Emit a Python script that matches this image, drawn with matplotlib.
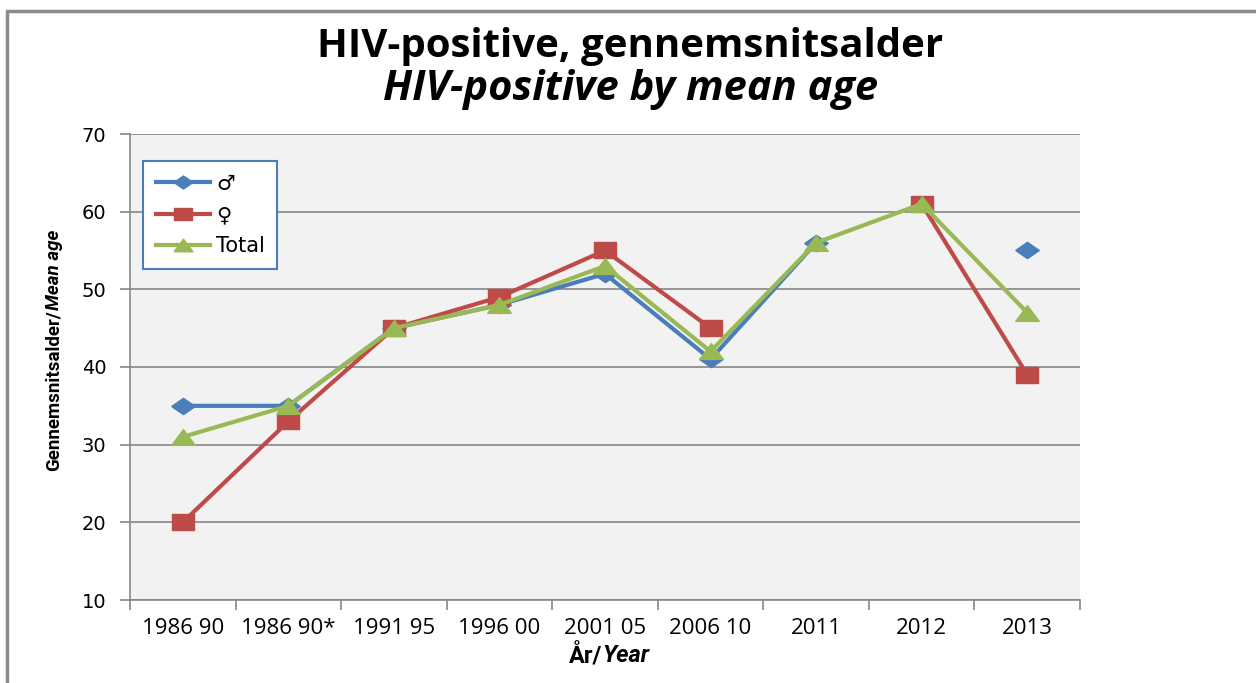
import numpy as np
import matplotlib
matplotlib.use("Agg")
import matplotlib.pyplot as plt
from matplotlib.patches import Rectangle

# data
periods = ["1986 90", "1986 90*", "1991 95", "1996 00", "2001 05",
           "2006 10", "2011", "2012", "2013"]
men = [35, 35, 45, 48, 52, 41, 56, np.nan, 55]
women = [20, 33, 45, 49, 55, 45, np.nan, 61, 39]
total = [31, 35, 45, 48, 53, 42, 56, 61, 47]

blue = "#4a7ebb"
red = "#be4b48"
green = "#98b954"
grid_col = "#868686"

# the original chart is stretched sideways, so markers are wide
diamond = [(-1.45, 0), (0, 1), (1.45, 0), (0, -1), (-1.45, 0)]
square = [(-1.45, -1), (1.45, -1), (1.45, 1), (-1.45, 1), (-1.45, -1)]
triangle = [(-1.5, -1), (1.5, -1), (0, 1), (-1.5, -1)]

fig = plt.figure(figsize=(12.56, 6.83), dpi=100)
W, H = 1256, 683

def fx(px):
    return px / W

def fy(py):
    return 1 - py / H

# outer chart frame
fig.patches.append(Rectangle((fx(7), fy(700)), fx(1300), 700 / H - 11 / H,
                             transform=fig.transFigure, fill=False,
                             edgecolor="#8c8c8c", linewidth=2.5))

ax = fig.add_axes([fx(130), fy(600), fx(1080) - fx(130), fy(134) - fy(600)])
ax.set_facecolor("#f2f2f2")

x = np.arange(len(periods))
ax.plot(x, men, color=blue, lw=3, marker=diamond, ms=17, label="\u2642", zorder=3)
ax.plot(x, women, color=red, lw=3, marker=square, ms=16, label="\u2640", zorder=4)
ax.plot(x, total, color=green, lw=3, marker=triangle, ms=17, label="Total", zorder=5)

ax.set_xlim(-0.5, len(periods) - 0.5)
ax.set_ylim(10, 70)
ax.set_yticks(range(10, 71, 10))
ax.yaxis.grid(True, color=grid_col, lw=1.2)
ax.set_axisbelow(True)

ax.set_xticks(x)
ax.set_xticklabels(periods, fontfamily="Open Sans", fontsize=16)
ax.set_xticks(np.arange(-0.5, len(periods)), minor=True)
ax.tick_params(axis="x", which="major", length=0, pad=13)
ax.tick_params(axis="x", which="minor", length=7, color=grid_col, width=1.2)
ax.tick_params(axis="y", length=7, color=grid_col, width=1.2, pad=10,
               labelsize=14)
for lab in ax.get_yticklabels():
    lab.set_fontfamily("DejaVu Sans")

for s in ["top", "right"]:
    ax.spines[s].set_visible(False)
for s in ["left", "bottom"]:
    ax.spines[s].set_color(grid_col)
    ax.spines[s].set_linewidth(1.2)

# titles
fig.text(fx(630), fy(47), "HIV-positive, gennemsnitsalder", ha="center",
         va="center", fontfamily="Open Sans", fontweight="bold", fontsize=29)
fig.text(fx(631), fy(90), "HIV-positive by mean age", ha="center",
         va="center", fontfamily="Open Sans", fontweight="bold",
         style="italic", fontsize=30)

# axis labels (mixed upright / italic)
fig.text(fx(54), fy(310), "Gennemsnitsalder/", rotation=90,
         rotation_mode="anchor", ha="right", va="center",
         fontfamily="Roboto", fontweight="bold", fontsize=13.5)
fig.text(fx(54), fy(310), "Mean age", rotation=90, rotation_mode="anchor",
         ha="left", va="center", fontfamily="Roboto",
         fontweight="bold", style="italic", fontsize=13.5)
fig.text(fx(602), fy(655), "År/", ha="right", va="center",
         fontfamily="Roboto", fontweight="bold", fontsize=17)
fig.text(fx(602), fy(655), "Year", ha="left", va="center",
         fontfamily="Roboto", fontweight="bold",
         style="italic", fontsize=17)

leg = ax.legend(loc="upper left", bbox_to_anchor=(fx(143), fy(161)),
                bbox_transform=fig.transFigure, fancybox=False,
                edgecolor=blue, framealpha=1, facecolor="white",
                prop={"family": "DejaVu Sans", "size": 15},
                handlelength=2.6, handletextpad=0.3, labelspacing=0.55,
                borderpad=0.6, borderaxespad=0, markerscale=0.8)
leg.get_frame().set_linewidth(1.5)

fig.savefig("out.png", dpi=100, facecolor="white")
